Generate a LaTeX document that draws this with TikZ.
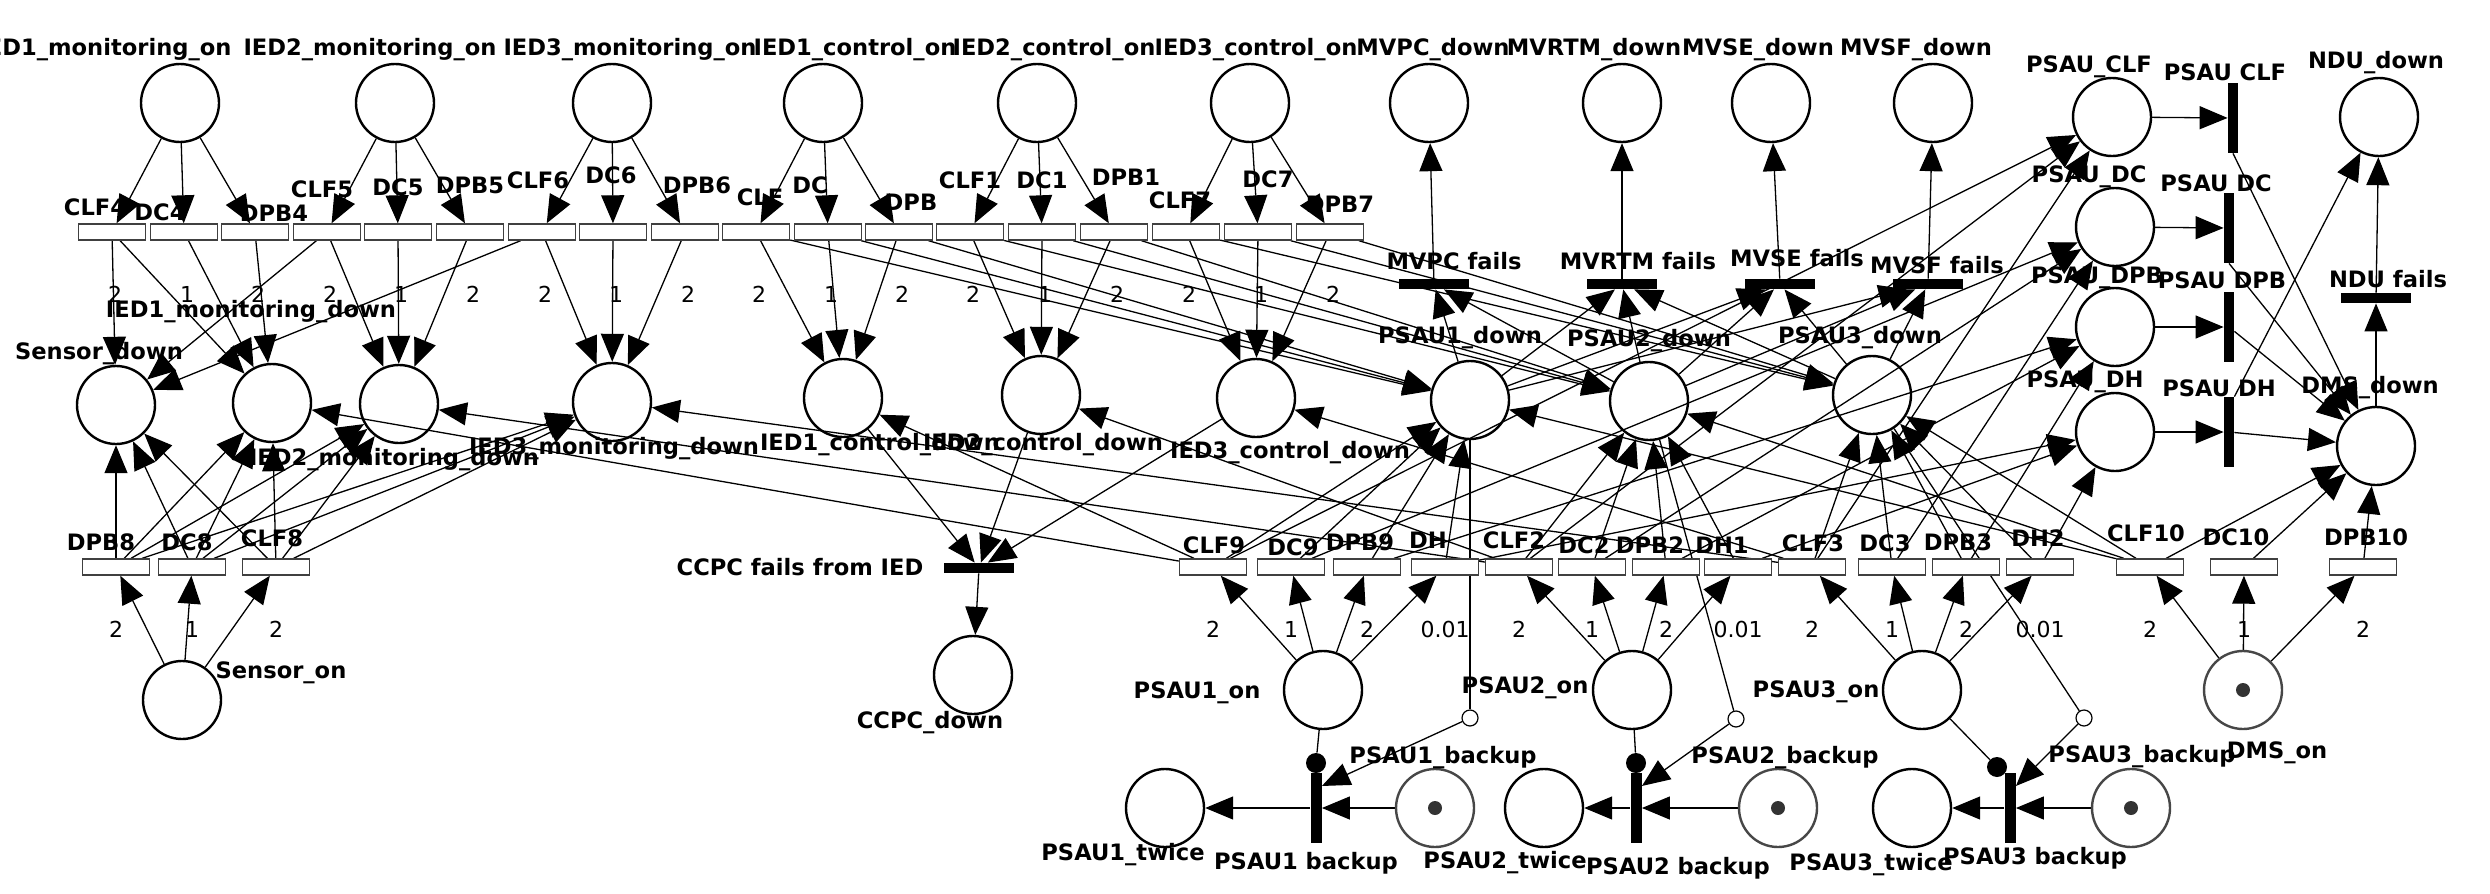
\documentclass[tikz,border=0pt]{standalone}
\usepackage{fontspec}
\setmainfont{DejaVu Sans}
\usetikzlibrary{arrows.meta}
\pgfdeclarelayer{bg}
\pgfsetlayers{bg,main}
\begin{document}
\begin{tikzpicture}[x=0.5pt,y=-0.5pt,
  place/.style={circle,draw,line width=1.2pt,minimum size=39pt,inner sep=0pt},
  gplace/.style={place,draw=black!72},
  tokn/.style={circle,fill=black!80,minimum size=7pt,inner sep=0pt},
  exptr/.style={rectangle,draw=black!75,line width=0.7pt,fill=white,minimum width=33.5pt,minimum height=8pt,inner sep=0pt},
  hbar/.style={rectangle,fill=black,minimum width=35pt,minimum height=5pt,inner sep=0pt},
  vbar/.style={rectangle,fill=black,minimum width=5pt,minimum height=35pt,inner sep=0pt},
  lbl/.style={font=\bfseries\fontsize{11.3}{13}\selectfont,inner sep=0pt},
  rate/.style={font=\fontsize{11}{13}\selectfont,inner sep=0pt},
  arc/.style={line width=0.65pt,-{Triangle[length=14pt,width=11.5pt]}},
  ln/.style={line width=0.65pt},
  odot/.style={circle,draw,line width=0.6pt,fill=white,minimum size=8pt,inner sep=0pt},
  fdot/.style={circle,fill=black,minimum size=10pt,inner sep=0pt}]
\useasboundingbox (0,0) rectangle (2490,894);

% ---------- top places ----------
\node[place] (im1) at (180,103) {};
\node[place] (im2) at (395,103) {};
\node[place] (im3) at (612,103) {};
\node[place] (ic1) at (823,103) {};
\node[place] (ic2) at (1037,103) {};
\node[place] (ic3) at (1250,103) {};
\node[place] (mvpc) at (1429,103) {};
\node[place] (mvrtm) at (1622,103) {};
\node[place] (mvse) at (1771,103) {};
\node[place] (mvsf) at (1933,103) {};
\node[lbl] (Lim1) at (105,50) {IED1\_monitoring\_on};
\node[lbl] (Lim2) at (370,50) {IED2\_monitoring\_on};
\node[lbl] (Lim3) at (630,50) {IED3\_monitoring\_on};
\node[lbl] (Lic1) at (855,50) {IED1\_control\_on};
\node[lbl] (Lic2) at (1054,50) {IED2\_control\_on};
\node[lbl] (Lic3) at (1256,50) {IED3\_control\_on};
\node[lbl] (Lmvpc) at (1433,50) {MVPC\_down};
\node[lbl] (Lmvrtm) at (1594,50) {MVRTM\_down};
\node[lbl] (Lmvse) at (1758,50) {MVSE\_down};
\node[lbl] (Lmvsf) at (1916,50) {MVSF\_down};

% ---------- right column ----------
\node[place] (pclf) at (2112,117) {};
\node[place] (pdc) at (2115,227) {};
\node[place] (pdpb) at (2115,327) {};
\node[place] (pdh) at (2115,432) {};
\node[place] (ndu) at (2379,117) {};
\node[place] (dms) at (2376,446) {};
\node[lbl] (Lpclf) at (2089,67) {PSAU\_CLF};
\node[lbl] (Lpdc) at (2089,177) {PSAU\_DC};
\node[lbl] (Lpdpb) at (2097,278) {PSAU\_DPB};
\node[lbl] (Lpdh) at (2085,382) {PSAU\_DH};
\node[lbl] (Lndu) at (2376,63) {NDU\_down};
\node[lbl] (Ldms) at (2370,388) {DMS\_down};
\node[vbar] (tclf) at (2233,118) {};
\node[vbar] (tdc) at (2229,228) {};
\node[vbar] (tdpb) at (2229,327) {};
\node[vbar] (tdh) at (2229,432) {};
\node[hbar] (tndu) at (2376,298) {};
\node[lbl] (Ltclf) at (2225,72) {PSAU CLF};
\node[lbl] (Ltdc) at (2216,183) {PSAU DC};
\node[lbl] (Ltdpb) at (2222,280) {PSAU DPB};
\node[lbl] (Ltdh) at (2219,388) {PSAU DH};
\node[lbl] (Ltndu) at (2388,279) {NDU fails};

% ---------- MV fail bars ----------
\node[hbar] (tmvpc) at (1434,284) {};
\node[hbar] (tmvrtm) at (1622,284) {};
\node[hbar] (tmvse) at (1780,284) {};
\node[hbar] (tmvsf) at (1928,284) {};
\node[lbl] (Ltmvpc) at (1454,261) {MVPC fails};
\node[lbl] (Ltmvrtm) at (1638,261) {MVRTM fails};
\node[lbl] (Ltmvse) at (1797,258) {MVSE fails};
\node[lbl] (Ltmvsf) at (1937,265) {MVSF fails};

% ---------- middle places ----------
\node[place] (sd) at (116,405) {};
\node[place] (imd1) at (272,403) {};
\node[place] (imd2) at (399,404) {};
\node[place] (imd3) at (612,402) {};
\node[place] (icd1) at (843,398) {};
\node[place] (icd2) at (1041,395) {};
\node[place] (icd3) at (1256,398) {};
\node[place] (pd1) at (1470,400) {};
\node[place] (pd2) at (1649,401) {};
\node[place] (pd3) at (1872,395) {};
\node[lbl] (Lsd) at (99,354) {Sensor\_down};
\node[lbl] (Limd1) at (251,312) {IED1\_monitoring\_down};
\node[lbl] (Limd2) at (394,460) {IED2\_monitoring\_down};
\node[lbl] (Limd3) at (614,449) {IED3\_monitoring\_down};
\node[lbl] (Licd1) at (880,445) {IED1\_control\_down};
\node[lbl] (Licd2) at (1043,445) {IED2\_control\_down};
\node[lbl] (Licd3) at (1290,453) {IED3\_control\_down};
\node[lbl] (Lpd1) at (1460,338) {PSAU1\_down};
\node[lbl] (Lpd2) at (1649,341) {PSAU2\_down};
\node[lbl] (Lpd3) at (1860,338) {PSAU3\_down};

% ---------- top exponential transitions ----------
\foreach \n/\x/\r in {CLF4/112/2,DC4/184/1,DPB4/255/2,CLF5/327/2,DC5/398/1,DPB5/470/2,
  CLF6/542/2,DC6/613/1,DPB6/685/2,CLF/756/2,DC/828/1,DPB/899/2,CLF1/970/2,DC1/1042/1,
  DPB1/1114/2,CLF7/1186/2,DC7/1258/1,DPB7/1330/2}{
  \node[exptr] (\n) at (\x,232) {};
  \node[rate] (r\n) at (\x+3,294) {\r};
}
\foreach \n/\x/\y in {CLF4/95/207,DC4/160/212,DPB4/274/213,CLF5/322/189,DC5/398/187,
  DPB5/470/185,CLF6/538/180,DC6/611/175,DPB6/697/185,CLF/760/197,DC/810/185,DPB/911/202,
  CLF1/970/180,DC1/1042/180,DPB1/1126/177,CLF7/1180/200,DC7/1268/179,DPB7/1340/204}{
  \node[lbl] (L\n) at (\x,\y) {\n};
}

% ---------- bottom exponential transitions ----------
\foreach \n/\x/\r in {DPB8/116/2,DC8/192/1,CLF8/276/2,CLF9/1213/2,DC9/1291/1,DPB9/1367/2,
  DH/1445/0.01,CLF2/1519/2,DC2/1592/1,DPB2/1666/2,DH1/1738/0.01,CLF3/1812/2,DC3/1892/1,
  DPB3/1966/2,DH2/2040/0.01,CLF10/2150/2,DC10/2244/1,DPB10/2363/2}{
  \node[exptr] (\n) at (\x,567) {};
  \node[rate] (r\n) at (\x,629) {\r};
}
\foreach \n/\x/\y in {DPB8/101/542,DC8/187/542,CLF8/272/538,CLF9/1214/545,DC9/1293/547,
  DPB9/1360/542,DH/1428/540,CLF2/1514/540,DC2/1584/545,DPB2/1650/545,DH1/1722/545,
  CLF3/1813/543,DC3/1885/543,DPB3/1958/542,DH2/2038/538,CLF10/2146/533,DC10/2236/537,
  DPB10/2366/537}{
  \node[lbl] (L\n) at (\x,\y) {\n};
}

% ---------- CCPC ----------
\node[hbar] (tccpc) at (979,568) {};
\node[lbl] (Ltccpc) at (800,567) {CCPC fails from IED};
\node[place] (ccpcd) at (973,675) {};
\node[lbl] (Lccpcd) at (930,723) {CCPC\_down};

% ---------- bottom places ----------
\node[place] (son) at (182,700) {};
\node[lbl] (Lson) at (281,673) {Sensor\_on};
\node[place] (p1on) at (1323,690) {};
\node[place] (p2on) at (1632,690) {};
\node[place] (p3on) at (1922,690) {};
\node[gplace] (dmson) at (2243,690) {};
\node[tokn] (kdms) at (2243,690) {};
\node[lbl] (Lp1on) at (1197,693) {PSAU1\_on};
\node[lbl] (Lp2on) at (1525,688) {PSAU2\_on};
\node[lbl] (Lp3on) at (1816,692) {PSAU3\_on};
\node[lbl] (Ldmson) at (2277,753) {DMS\_on};

\node[place] (p1tw) at (1165,808) {};
\node[place] (p2tw) at (1544,808) {};
\node[place] (p3tw) at (1912,808) {};
\node[gplace] (p1bk) at (1435,808) {};
\node[gplace] (p2bk) at (1778,808) {};
\node[gplace] (p3bk) at (2131,808) {};
\node[tokn] (k1) at (1435,808) {};
\node[tokn] (k2) at (1778,808) {};
\node[tokn] (k3) at (2131,808) {};
\node[vbar,minimum width=5.5pt] (bk1) at (1316,808) {};
\node[vbar,minimum width=5.5pt] (bk2) at (1636,808) {};
\node[vbar,minimum width=5.5pt] (bk3) at (2010,808) {};
\node[fdot] (dot1) at (1316,763) {};
\node[fdot] (dot2) at (1636,763) {};
\node[fdot] (dot3) at (1997,767) {};
\node[odot] (oc1) at (1470,718) {};
\node[odot] (oc2) at (1736,719) {};
\node[odot] (oc3) at (2084,718) {};
\node[lbl] (Lp1tw) at (1123,855) {PSAU1\_twice};
\node[lbl] (Lp2tw) at (1505,863) {PSAU2\_twice};
\node[lbl] (Lp3tw) at (1871,865) {PSAU3\_twice};
\node[lbl] (Lp1bk) at (1443,758) {PSAU1\_backup};
\node[lbl] (Lp2bk) at (1785,758) {PSAU2\_backup};
\node[lbl] (Lp3bk) at (2142,757) {PSAU3\_backup};
\node[lbl] (Lbk1) at (1306,863) {PSAU1 backup};
\node[lbl] (Lbk2) at (1678,868) {PSAU2 backup};
\node[lbl] (Lbk3) at (2035,858) {PSAU3 backup};

% ---------- arcs ----------
\begin{pgfonlayer}{bg}
\foreach \a/\b in {im1/CLF4,im1/DC4,im1/DPB4,im2/CLF5,im2/DC5,im2/DPB5,im3/CLF6,im3/DC6,im3/DPB6,
  ic1/CLF,ic1/DC,ic1/DPB,ic2/CLF1,ic2/DC1,ic2/DPB1,ic3/CLF7,ic3/DC7,ic3/DPB7,
  CLF4/sd,CLF4/imd1,DC4/imd1,DPB4/imd1,CLF5/sd,CLF5/imd2,DC5/imd2,DPB5/imd2,
  CLF6/sd,CLF6/imd3,DC6/imd3,DPB6/imd3,
  CLF/icd1,DC/icd1,DPB/icd1,CLF/pd1,DC/pd1,DPB/pd1,
  CLF1/icd2,DC1/icd2,DPB1/icd2,CLF1/pd2,DC1/pd2,DPB1/pd2,
  CLF7/icd3,DC7/icd3,DPB7/icd3,CLF7/pd3,DC7/pd3,DPB7/pd3,
  son/DPB8,son/DC8,son/CLF8,DPB8/sd,DC8/sd,CLF8/sd,DPB8/imd1,DC8/imd1,CLF8/imd1,
  DPB8/imd2,DC8/imd2,CLF8/imd2,DPB8/imd3,DC8/imd3,CLF8/imd3,
  p1on/CLF9,p1on/DC9,p1on/DPB9,p1on/DH,p2on/CLF2,p2on/DC2,p2on/DPB2,p2on/DH1,
  p3on/CLF3,p3on/DC3,p3on/DPB3,p3on/DH2,
  CLF9/pd1,DC9/pd1,DPB9/pd1,DH/pd1,CLF2/pd2,DC2/pd2,DPB2/pd2,DH1/pd2,
  CLF3/pd3,DC3/pd3,DPB3/pd3,DH2/pd3,
  CLF9/pclf,CLF2/pclf,CLF3/pclf,DC9/pdc,DC2/pdc,DC3/pdc,
  DPB9/pdpb,DPB2/pdpb,DPB3/pdpb,DH/pdh,DH1/pdh,DH2/pdh,
  CLF9/imd1,CLF9/icd1,CLF2/imd2,CLF2/icd2,CLF3/imd3,CLF3/icd3,
  dmson/CLF10,dmson/DC10,dmson/DPB10,CLF10/dms,DC10/dms,DPB10/dms,
  CLF10/pd1,CLF10/pd2,CLF10/pd3,
  pd1/tmvpc,pd2/tmvpc,pd1/tmvrtm,pd2/tmvrtm,pd3/tmvrtm,pd1/tmvse,pd2/tmvse,pd3/tmvse,
  pd1/tmvsf,pd2/tmvsf,pd3/tmvsf,
  tmvpc/mvpc,tmvrtm/mvrtm,tmvse/mvse,tmvsf/mvsf,
  pclf/tclf,pdc/tdc,pdpb/tdpb,pdh/tdh,tdpb/dms,tdh/dms,dms/tndu,tndu/ndu,
  icd1/tccpc,icd2/tccpc,icd3/tccpc,tccpc/ccpcd,
  p1bk/bk1,bk1/p1tw,p2bk/bk2,bk2/p2tw,p3bk/bk3,bk3/p3tw}{
  \draw[arc] (\a) -- (\b);
}
\draw[arc] (tclf.south) -- (dms);
\draw[arc] (tdc.south) -- (dms);
\draw[arc] (tdh.north east) -- (ndu);
\draw[ln] (p1on) -- (dot1);
\draw[ln] (p2on) -- (dot2);
\draw[ln] (p3on) -- (dot3);
\draw[ln] (pd1) -- (oc1);
\draw[ln] (pd2) -- (oc2);
\draw[ln] (pd3) -- (oc3);
\draw[arc] (oc1) -- (bk1.75);
\draw[arc] (oc2) -- (bk2.75);
\draw[arc] (oc3) -- (bk3.75);
\end{pgfonlayer}
\end{tikzpicture}
\end{document}
